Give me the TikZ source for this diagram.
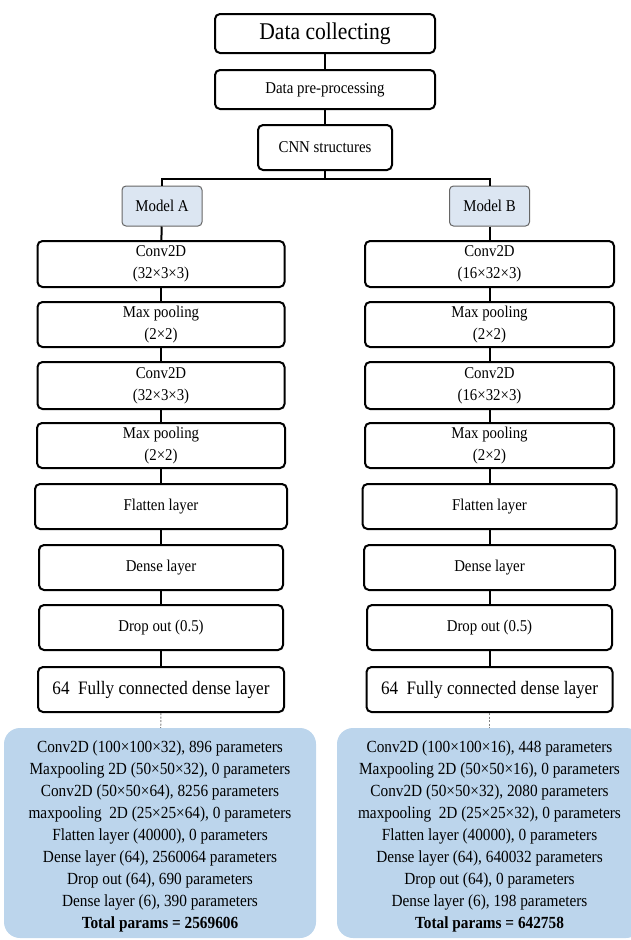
\documentclass[tikz,border=0pt]{standalone}
\usepackage{fontspec}
\setmainfont{Liberation Serif}[FakeStretch=0.9]
\definecolor{modelfill}{HTML}{DCE6F2}
\definecolor{sumfill}{HTML}{BCD5EC}
\begin{document}
\begin{tikzpicture}[x=1pt,y=-1pt,
  box/.style={draw=black, line width=2pt, rounded corners=5pt, fill=white,
    align=center, inner sep=0pt, font=\fontsize{16.5}{22}\selectfont},
  modelbox/.style={draw=gray!80!black, line width=1pt, rounded corners=4pt, fill=modelfill,
    align=center, inner sep=0pt, minimum width=80pt, minimum height=40pt, font=\fontsize{16.5}{18}\selectfont},
  sumbox/.style={draw=none, rounded corners=16pt, fill=sumfill, inner sep=0pt, minimum height=210pt},
  sumtext/.style={align=center, inner sep=0pt, font=\fontsize{17}{22}\selectfont},
  link/.style={draw=black, line width=2pt},
  dlink/.style={draw=gray, line width=1pt, dash pattern=on 2pt off 1.5pt}
]
\useasboundingbox (0,0) rectangle (631,940);

% top chain
\node[box, minimum width=220pt, minimum height=39pt, font=\fontsize{24}{26}\selectfont] (dc) at (325,33.5) {Data collecting};
\node[box, minimum width=220pt, minimum height=39pt] (dp) at (325,89.5) {Data pre-processing};
\node[box, minimum width=134pt, minimum height=45pt] (cnn) at (325,147.5) {CNN structures};
\draw[link] (dc) -- (dp);
\draw[link] (dp) -- (cnn);

% models
\node[modelbox] (mA) at (162,206) {Model A};
\node[modelbox] (mB) at (489.5,206) {Model B};
\draw[link] (cnn.south) -- ++(0,7.5) coordinate (bar);
\draw[link] (mA.north) |- (bar) -| (mB.north);

% left column
\node[box, minimum width=247pt, minimum height=46pt] (a1) at (161,264) {Conv2D\\(32×3×3)};
\node[box, minimum width=247pt, minimum height=45pt] (a2) at (161,324.5) {Max pooling\\(2×2)};
\node[box, minimum width=247pt, minimum height=47pt] (a3) at (161,385.5) {Conv2D\\(32×3×3)};
\node[box, minimum width=248pt, minimum height=45pt] (a4) at (161,445.5) {Max pooling\\(2×2)};
\node[box, minimum width=252pt, minimum height=45pt] (a5) at (161,506.5) {Flatten layer};
\node[box, minimum width=244pt, minimum height=45pt] (a6) at (161,567.5) {Dense layer};
\node[box, minimum width=244pt, minimum height=45pt] (a7) at (161,627.5) {Drop out (0.5)};
\node[box, minimum width=246pt, minimum height=45pt, font=\fontsize{19}{21}\selectfont] (a8) at (161,689.5) {64\ \ Fully connected dense layer};
\draw[link] (mA) -- (a1);
\draw[link] (a1) -- (a2);
\draw[link] (a2) -- (a3);
\draw[link] (a3) -- (a4);
\draw[link] (a4) -- (a5);
\draw[link] (a5) -- (a6);
\draw[link] (a6) -- (a7);
\draw[link] (a7) -- (a8);

% right column
\node[box, minimum width=249pt, minimum height=46pt] (b1) at (489.5,264) {Conv2D\\(16×32×3)};
\node[box, minimum width=249pt, minimum height=45pt] (b2) at (489.5,324.5) {Max pooling\\(2×2)};
\node[box, minimum width=249pt, minimum height=47pt] (b3) at (489.5,385.5) {Conv2D\\(16×32×3)};
\node[box, minimum width=249pt, minimum height=45pt] (b4) at (489.5,445.5) {Max pooling\\(2×2)};
\node[box, minimum width=254pt, minimum height=45pt] (b5) at (489.5,506.5) {Flatten layer};
\node[box, minimum width=251pt, minimum height=45pt] (b6) at (489.5,567.5) {Dense layer};
\node[box, minimum width=245pt, minimum height=45pt] (b7) at (489.5,627.5) {Drop out (0.5)};
\node[box, minimum width=246pt, minimum height=45pt, font=\fontsize{19}{21}\selectfont] (b8) at (489.5,689.5) {64\ \ Fully connected dense layer};
\draw[link] (mB) -- (b1);
\draw[link] (b1) -- (b2);
\draw[link] (b2) -- (b3);
\draw[link] (b3) -- (b4);
\draw[link] (b4) -- (b5);
\draw[link] (b5) -- (b6);
\draw[link] (b6) -- (b7);
\draw[link] (b7) -- (b8);

% summaries
\node[sumbox, minimum width=312pt] (sA) at (160,833) {};
\node[sumtext] (tA) at ([yshift=-3pt]sA.center) {%
Conv2D (100×100×32), 896 parameters\\
Maxpooling 2D (50×50×32), 0 parameters\\
Conv2D (50×50×64), 8256 parameters\\
maxpooling\ \ 2D (25×25×64), 0 parameters\\
Flatten layer (40000), 0 parameters\\
Dense layer (64), 2560064 parameters\\
Drop out (64), 690 parameters\\
Dense layer (6), 390 parameters\\
\textbf{Total params = 2569606}};
\node[sumbox, minimum width=305pt] (sB) at (489.5,833) {};
\node[sumtext] (tB) at ([yshift=-3pt]sB.center) {%
Conv2D (100×100×16), 448 parameters\\
Maxpooling 2D (50×50×16), 0 parameters\\
Conv2D (50×50×32), 2080 parameters\\
maxpooling\ \ 2D (25×25×32), 0 parameters\\
Flatten layer (40000), 0 parameters\\
Dense layer (64), 640032 parameters\\
Drop out (64), 0 parameters\\
Dense layer (6), 198 parameters\\
\textbf{Total params = 642758}};
\draw[dlink] (a8) -- (sA);
\draw[dlink] (b8) -- (sB);
\end{tikzpicture}
\end{document}
